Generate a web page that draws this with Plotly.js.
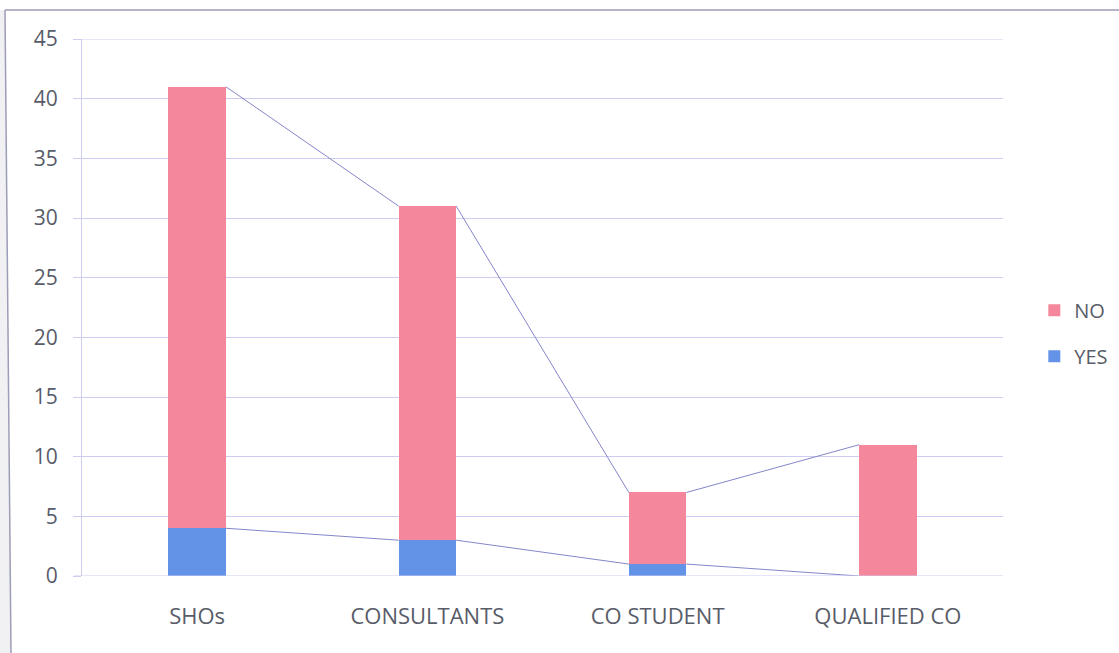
<!DOCTYPE html>
<html>
<head>
<meta charset="utf-8">
<script src="https://cdn.plot.ly/plotly-3.0.1.min.js"></script>
<style>
  html, body { margin: 0; padding: 0; background: #ffffff; }
  #chart { width: 1119px; height: 653px; }
</style>
</head>
<body>
<div id="chart"></div>
<script>
// Respondent groups and their answers
const categories = ["SHOs", "CONSULTANTS", "CO STUDENT", "QUALIFIED CO"];
const yesValues = [4, 3, 1, 0];
const noValues = [37, 28, 6, 11];
const yTickValues = [0, 5, 10, 15, 20, 25, 30, 35, 40, 45];

const barWidth = 0.25;
const xPos = categories.map((_, i) => i);

// Cumulative tops of each stacked segment
const yesTops = yesValues.slice();
const noTops = yesValues.map((v, i) => v + noValues[i]);

// Series lines: join the right top corner of one bar to the left top corner of the next
function seriesLine(tops) {
  const xs = [], ys = [];
  for (let i = 0; i < tops.length - 1; i++) {
    xs.push(xPos[i] + barWidth / 2, xPos[i + 1] - barWidth / 2, null);
    ys.push(tops[i], tops[i + 1], null);
  }
  return { x: xs, y: ys };
}

const yesLine = seriesLine(yesTops);
const noLine = seriesLine(noTops);

const pink = "#f4879c";
const blue = "#6393e6";
const gridCol = "#cccdf1";
const lineCol = "#8486c8";
const textCol = "#585c68";
const frameCol = "#9c9db6";

// plot area size in pixels, used to place the frame in paper units
const plotW = 921, plotH = 537;
const px = v => (v - 82) / plotW;
const py = v => (576 - v) / plotH;

const traces = [
  {
    type: "bar", name: "YES", x: xPos, y: yesValues, width: barWidth,
    legendgroup: "yes", legendrank: 2,
    marker: { color: blue, line: { width: 0 } }, hoverinfo: "y+name"
  },
  {
    type: "bar", name: "NO", x: xPos, y: noValues, width: barWidth,
    legendgroup: "no", legendrank: 1,
    marker: { color: pink, line: { width: 0 } }, hoverinfo: "y+name"
  },
  {
    type: "scatter", mode: "lines", x: yesLine.x, y: yesLine.y,
    line: { color: lineCol, width: 1 }, showlegend: false, hoverinfo: "skip"
  },
  {
    type: "scatter", mode: "lines", x: noLine.x, y: noLine.y,
    line: { color: lineCol, width: 1 }, showlegend: false, hoverinfo: "skip"
  }
];

const layout = {
  width: 1119,
  height: 653,
  paper_bgcolor: "#ffffff",
  plot_bgcolor: "#ffffff",
  margin: { l: 82, r: 116, t: 39, b: 77, autoexpand: false },
  barmode: "stack",
  font: { family: "'Open Sans', Lato, sans-serif", color: textCol },
  xaxis: {
    range: [-0.5, 3.5],
    tickvals: xPos,
    ticktext: categories,
    showgrid: false,
    zeroline: false,
    showline: false,
    ticks: "",
    ticklabelstandoff: 25,
    tickfont: { size: 22, color: textCol },
    fixedrange: true
  },
  yaxis: {
    range: [0, 45],
    tickvals: yTickValues,
    showgrid: true,
    gridcolor: gridCol,
    gridwidth: 1,
    zeroline: false,
    showline: true,
    linecolor: gridCol,
    linewidth: 1,
    ticks: "outside",
    ticklen: 8,
    tickcolor: gridCol,
    ticklabelstandoff: 11,
    tickfont: { size: 21, color: textCol },
    fixedrange: true
  },
  legend: {
    x: 1.034, xanchor: "left",
    y: 0.452, yanchor: "middle",
    traceorder: "grouped",
    font: { size: 20, color: textCol },
    itemwidth: 30,
    tracegroupgap: 17,
    bgcolor: "rgba(0,0,0,0)"
  },
  shapes: [
    // horizontal axis line with its short stub to the left
    {
      type: "line", xref: "paper", yref: "y",
      x0: -8 / plotW, x1: 1, y0: 0, y1: 0,
      line: { color: gridCol, width: 1 }
    },
    // top gridline at the end of the range
    {
      type: "line", xref: "paper", yref: "y",
      x0: 0, x1: 1, y0: 45, y1: 45,
      line: { color: gridCol, width: 1 }
    },
    // light shading to the left of the frame
    {
      type: "path", xref: "paper", yref: "paper",
      path: `M ${px(0)} ${py(10)} L ${px(5)} ${py(10)} L ${px(11)} ${py(653)} L ${px(0)} ${py(653)} Z`,
      fillcolor: "#f1f1f4", line: { width: 0 }
    },
    // frame: top edge
    {
      type: "line", xref: "paper", yref: "paper",
      x0: px(5), x1: px(1119), y0: py(10), y1: py(10),
      line: { color: frameCol, width: 1.5 }
    },
    // frame: left edge
    {
      type: "line", xref: "paper", yref: "paper",
      x0: px(5), x1: px(11), y0: py(10), y1: py(653),
      line: { color: frameCol, width: 1.5 }
    }
  ],
  showlegend: true
};

Plotly.newPlot("chart", traces, layout, { displayModeBar: false, staticPlot: true });
</script>
</body>
</html>
